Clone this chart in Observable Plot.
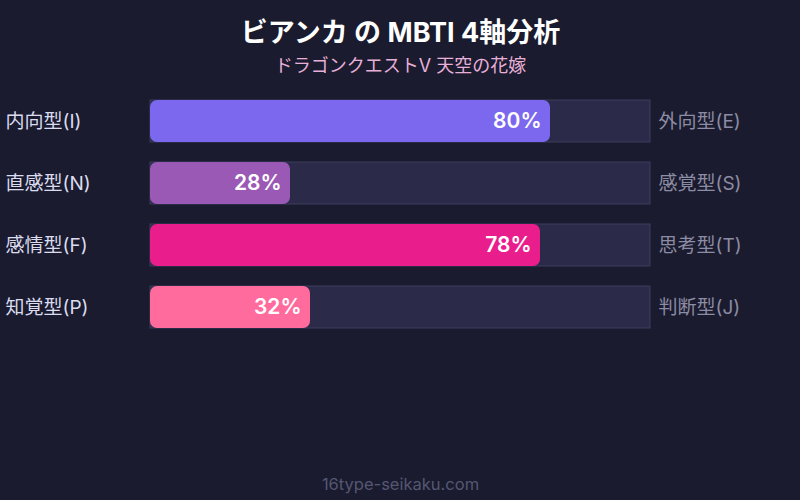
<!DOCTYPE html>
<html>
<head>
<meta charset="utf-8">
<script src="https://cdn.jsdelivr.net/npm/d3@7"></script>
<script src="https://cdn.jsdelivr.net/npm/@observablehq/plot@0.6"></script>
<style>
  html, body { margin: 0; padding: 0; background: #1a1b2e; }
  #chart svg { display: block; }
</style>
</head>
<body>
<div id="chart"></div>
<script>
const title = "ビアンカ の MBTI 4軸分析";
const subtitle = "ドラゴンクエストV 天空の花嫁";
const footer = "16type-seikaku.com";
const leftLabels = ["内向型(I)", "直感型(N)", "感情型(F)", "知覚型(P)"];
const rightLabels = ["外向型(E)", "感覚型(S)", "思考型(T)", "判断型(J)"];
const values = [80, 28, 78, 32];
const barColors = ["#7b68ee", "#9b59b6", "#e91e8c", "#ff6b9d"];

const data = leftLabels.map((l, i) => ({left: l, right: rightLabels[i], value: values[i]}));
const font = "Inter, 'Noto Sans CJK JP', sans-serif";

const chart = Plot.plot({
  width: 800,
  height: 500,
  margin: 0,
  style: {background: "#1a1b2e", fontFamily: font},
  x: {domain: [0, 100], range: [150, 650], axis: null},
  y: {domain: leftLabels, range: [100, 328], paddingInner: 20 / 62, paddingOuter: 0, axis: null},
  color: {domain: leftLabels, range: barColors},
  marks: [
    Plot.barX(data, {y: "left", x1: 0, x2: 100, fill: "#2b2a48", stroke: "#3e3d5e", strokeWidth: 1}),
    Plot.barX(data, {y: "left", x1: 0, x2: "value", fill: "left", rx: 7}),
    Plot.text(data, {y: "left", x: "value", text: d => d.value + "%", dx: -9, textAnchor: "end", fill: "white", fontSize: 21, fontWeight: 600}),
    Plot.text(data, {y: "left", frameAnchor: "left", dx: 5, text: "left", textAnchor: "start", fill: "#dcdcf0", fontSize: 19}),
    Plot.text(data, {y: "left", x: 100, dx: 8, text: "right", textAnchor: "start", fill: "#8c8ca4", fontSize: 19}),
    Plot.text([title], {frameAnchor: "top", lineAnchor: "middle", dy: 33, text: d => d, fill: "white", fontSize: 27, fontWeight: "bold"}),
    Plot.text([subtitle], {frameAnchor: "top", lineAnchor: "middle", dy: 66, text: d => d, fill: "#e8b0d8", fontSize: 18}),
    Plot.text([footer], {frameAnchor: "bottom", lineAnchor: "middle", dy: -16, text: d => d, fill: "#555772", fontSize: 16.5})
  ]
});
document.getElementById("chart").appendChild(chart);
</script>
</body>
</html>
